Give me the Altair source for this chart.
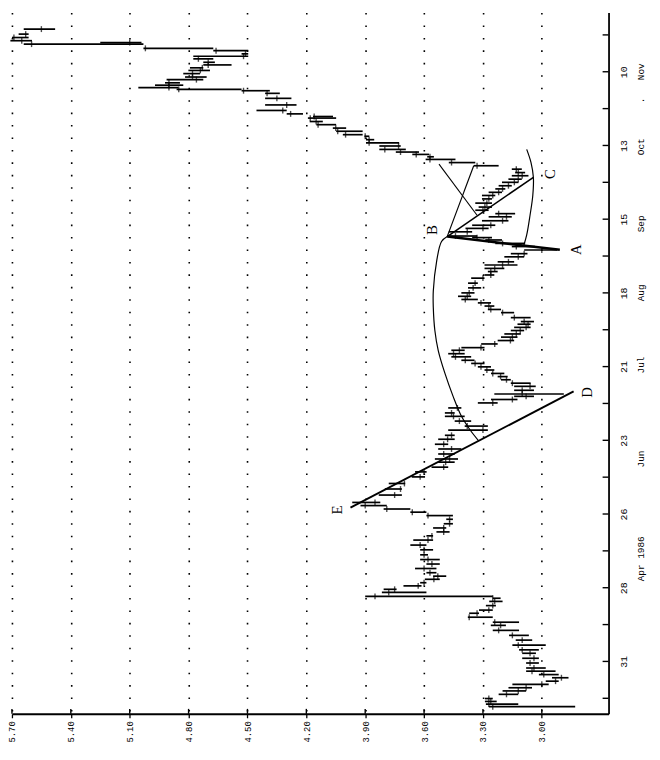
import altair as alt
import pandas as pd

BASE = pd.Timestamp("1986-03-31", tz="UTC")


def ms(day):
    return int((BASE + pd.Timedelta(days=float(day))).timestamp() * 1000)


# ---------------- daily bars (day offset from 31 Mar 1986) ----------------
bar_day = [
    -17.2, -16.2, -15.2, -14.1, -12.5, -11.2, -10.0, -8.7, -7.5, -6.2, -5.0, -3.7, -2.5, -0.6,
    1.2, 3.1, 4.4, 6.2, 8.1, 9.9, 11.8, 13.7, 14.9, 16.8, 18.3, 19.5, 21.2, 22.8, 24.0, 24.7,
    26.2, 27.4, 28.7, 29.9, 31.2, 32.4, 33.7, 35.3, 37.0, 38.7, 40.5, 42.4, 44.2, 46.1, 47.7,
    49.2, 50.7, 52.3, 54.0, 55.4, 56.7, 57.9, 59.2, 60.4,
    63.2, 65.5, 67.6, 70.1, 72.0, 73.8, 75.7, 76.9, 78.8, 80.7, 82.5, 84.4, 85.9, 87.9, 89.4,
    91.3, 93.1, 94.4, 96.3, 98.2, 99.5, 100.7, 101.6, 103.0, 104.5, 105.7, 107.0, 108.2, 109.4,
    110.7, 111.9, 113.2, 114.4, 115.7, 116.9, 118.2, 119.2, 120.6, 121.9, 123.2, 124.4, 125.7,
    126.9, 128.1, 129.1, 130.6, 132.5, 133.7, 135.0, 136.2, 137.5, 138.7, 140.0, 141.9, 143.7,
    145.6, 146.8, 148.1, 149.3, 150.6, 151.8, 153.7, 154.9, 156.3,
    157.6, 158.8, 160.1, 161.0, 161.6, 163.2, 164.5, 165.7, 167.4, 168.9, 170.1, 171.4, 172.6,
    174.1, 175.7, 177.0, 178.2, 179.5, 180.7, 182.0, 183.2, 184.5, 185.7, 187.0, 188.3, 189.5,
    190.7, 191.7, 192.6, 193.5, 194.5, 195.8, 197.0, 198.2, 199.5, 200.1, 201.4, 202.6, 203.9,
    205.1, 206.4,
    207.0, 208.0, 209.3, 211.4, 213.9, 215.8, 216.8, 217.3, 218.0, 218.9, 219.8, 221.0, 222.0,
    223.3, 224.5, 225.5, 226.6, 227.6, 228.9, 229.9, 230.8, 232.0, 232.9, 234.5, 235.1, 235.8,
    237.0, 238.3, 240.2,
]
bar_low = [
    2.83, 3.12, 3.23, 3.25, 3.12, 3.08, 3.05, 2.965, 2.914, 2.864, 2.914, 2.93, 2.98, 3.015,
    3.015, 3.03, 3.015, 2.98, 3.049, 3.066, 3.116, 3.183, 3.116, 3.25, 3.32, 3.25, 3.234, 3.20, 3.21, 3.25,
    3.588, 3.74, 3.613, 3.588, 3.52, 3.487, 3.537, 3.537, 3.52, 3.52, 3.58, 3.554, 3.588, 3.554, 3.554,
    3.47, 3.487, 3.453, 3.453, 3.453, 3.588, 3.67, 3.79, 3.823,
    3.713, 3.713, 3.696, 3.595, 3.587, 3.477, 3.444, 3.427, 3.444, 3.41, 3.477, 3.444, 3.444, 3.275, 3.275,
    3.36, 3.393, 3.444, 3.41, 3.225, 3.124, 3.04, 2.888, 3.04, 3.031, 3.057, 3.158, 3.174, 3.191,
    3.242, 3.259, 3.292, 3.343, 3.36, 3.393, 3.393, 3.292, 3.225, 3.141, 3.124, 3.107, 3.09,
    3.057, 3.057, 3.04, 3.057, 3.141, 3.208, 3.242, 3.259, 3.326, 3.36, 3.343, 3.309, 3.326,
    3.292, 3.242, 3.225, 3.191, 3.124, 3.141, 3.09, 3.073, 2.922,
    3.035, 3.085, 3.203, 3.254, 3.33, 3.355, 3.271, 3.237, 3.17, 3.153, 3.136, 3.271, 3.254,
    3.254, 3.254, 3.237, 3.203, 3.186, 3.153, 3.119, 3.102, 3.068, 3.085, 3.102, 3.22, 3.339,
    3.44, 3.55, 3.575, 3.626, 3.693, 3.719, 3.727, 3.854, 3.879, 3.913, 3.913, 3.997, 4.048,
    4.116, 4.048,
    4.064, 4.217, 4.30, 4.25, 4.276, 4.335, 4.386, 4.53, 4.852, 4.827, 4.844, 4.725, 4.708,
    4.742, 4.691, 4.725, 4.581, 4.666, 4.674, 4.496, 4.496, 4.496, 4.674, 5.03, 5.04, 5.598,
    5.615, 5.615, 5.48,
]
bar_high = [
    3.27, 3.285, 3.29, 3.29, 3.22, 3.20, 3.17, 3.15, 2.98, 2.948, 3.015, 3.08, 3.08, 3.08,
    3.10, 3.10, 3.116, 3.15, 3.133, 3.167, 3.25, 3.26, 3.25, 3.377, 3.37, 3.32, 3.285, 3.268, 3.25, 3.90,
    3.815, 3.806, 3.705, 3.62, 3.596, 3.554, 3.588, 3.646, 3.588, 3.62, 3.62, 3.62, 3.67, 3.655, 3.588,
    3.537, 3.554, 3.50, 3.487, 3.588, 3.67, 3.806, 3.924, 3.966,
    3.831, 3.80, 3.78, 3.663, 3.646, 3.562, 3.528, 3.545, 3.528, 3.528, 3.545, 3.528, 3.494, 3.477, 3.393,
    3.444, 3.494, 3.494, 3.477, 3.326, 3.259, 3.141, 3.242, 3.141, 3.141, 3.158, 3.208, 3.225, 3.259,
    3.292, 3.326, 3.36, 3.41, 3.461, 3.477, 3.461, 3.41, 3.309, 3.225, 3.208, 3.191, 3.158,
    3.141, 3.124, 3.107, 3.158, 3.208, 3.275, 3.292, 3.326, 3.41, 3.427, 3.41, 3.376, 3.376,
    3.36, 3.292, 3.275, 3.292, 3.292, 3.225, 3.191, 3.158, 3.09,
    3.153, 3.237, 3.288, 3.355, 3.482, 3.474, 3.389, 3.355, 3.305, 3.271, 3.237, 3.339, 3.322,
    3.339, 3.305, 3.305, 3.271, 3.237, 3.22, 3.203, 3.17, 3.153, 3.136, 3.153, 3.347, 3.474,
    3.592, 3.584, 3.66, 3.744, 3.828, 3.828, 3.896, 3.896, 3.904, 4.014, 4.048, 4.065, 4.149,
    4.183, 4.192,
    4.166, 4.30, 4.454, 4.41, 4.41, 4.41, 4.53, 4.861, 5.056, 4.971, 4.92, 4.912, 4.818,
    4.827, 4.801, 4.793, 4.725, 4.725, 4.776, 4.776, 4.53, 4.674, 5.03, 5.64, 5.25, 5.708,
    5.70, 5.666, 5.64,
]
bar_close = [
    3.25, 3.27, 3.26, 3.27, 3.18, 3.12, 3.08, 3.00, 2.93, 2.90, 2.99, 3.05, 3.04, 3.06,
    3.04, 3.06, 3.10, 3.12, 3.10, 3.15, 3.22, 3.21, 3.24, 3.37, 3.33, 3.27, 3.25, 3.24, 3.25, 3.85,
    3.78, 3.75, 3.63, 3.60, 3.55, 3.53, 3.57, 3.60, 3.56, 3.58, 3.60, 3.60, 3.62, 3.58, 3.56,
    3.50, 3.50, 3.47, 3.47, 3.58, 3.66, 3.79, 3.90, 3.85,
    3.75, 3.72, 3.70, 3.62, 3.60, 3.50, 3.49, 3.47, 3.50, 3.46, 3.50, 3.48, 3.46, 3.30, 3.38,
    3.42, 3.45, 3.46, 3.43, 3.25, 3.15, 3.08, 3.10, 3.10, 3.06, 3.15, 3.18, 3.21, 3.25,
    3.28, 3.31, 3.34, 3.39, 3.44, 3.45, 3.42, 3.31, 3.24, 3.16, 3.15, 3.13, 3.11,
    3.08, 3.07, 3.09, 3.14, 3.20, 3.26, 3.27, 3.31, 3.39, 3.38, 3.37, 3.35, 3.34,
    3.30, 3.26, 3.26, 3.24, 3.20, 3.17, 3.12, 3.09, 3.00,
    3.13, 3.20, 3.27, 3.33, 3.44, 3.38, 3.30, 3.26, 3.20, 3.18, 3.22, 3.30, 3.29,
    3.28, 3.27, 3.25, 3.22, 3.20, 3.17, 3.14, 3.12, 3.10, 3.12, 3.13, 3.33, 3.46,
    3.57, 3.57, 3.64, 3.72, 3.80, 3.73, 3.88, 3.88, 3.90, 4.00, 4.04, 4.05, 4.14,
    4.15, 4.18,
    4.16, 4.28, 4.32, 4.30, 4.35, 4.40, 4.52, 4.85, 4.90, 4.90, 4.90, 4.76, 4.78,
    4.78, 4.74, 4.73, 4.70, 4.70, 4.75, 4.52, 4.51, 4.66, 5.02, 5.60, 5.10, 5.65,
    5.69, 5.63, 5.55,
]

# ---------------- drawn study lines ----------------
line_name = ["ED", "ED", "BA", "BA", "BC", "BC", "X1", "X1", "X2", "X2"]
line_price = [3.975, 2.838, 3.482, 2.908, 3.482, 3.043, 3.482, 3.347, 3.524, 3.330]
line_day = [58.4, 102.6, 161.4, 156.4, 161.4, 183.9, 161.4, 188.3, 188.9, 169.5]
line_width = [2.0, 2.0, 2.5, 2.5, 1.6, 1.6, 1.1, 1.1, 1.1, 1.1]

arc_left_price = [3.482, 3.511, 3.536, 3.553, 3.553, 3.545, 3.528, 3.494, 3.452, 3.41, 3.368, 3.322]
arc_left_day = [161.4, 159.5, 152.0, 140.7, 134.5, 125.7, 118.2, 109.5, 100.7, 93.2, 88.2, 83.8]
arc_right_price = [3.077, 3.055, 3.043, 3.046, 3.06, 3.077, 3.092]
arc_right_day = [194.5, 189.5, 183.9, 177.0, 169.5, 162.0, 158.0]

letter_text = ["A", "B", "C", "D", "E"]
letter_price = [2.823, 3.558, 2.959, 2.77, 4.042]
letter_day = [156.4, 163.9, 185.1, 102.2, 57.5]

# ---------------- axes ----------------
price_ticks = [3.00, 3.30, 3.60, 3.90, 4.20, 4.50, 4.80, 5.10, 5.40, 5.70]
tick_days = [-14, 0, 14, 28, 42, 56, 70, 84, 98, 112, 126, 140, 154, 168, 182, 196, 210, 224, 238]
labelled_dates = [31, 28, 26, 23, 21, 18, 15, 13, 10]
month_text = ["Apr 1986", "Jun", "Jul", "Aug", "Sep", "Oct", "Nov", "."]
month_day = [39.0, 76.9, 112.6, 140.0, 166.2, 195.5, 224.0, 213.1]

W, H = 604, 710
PRICE_DOMAIN = [2.66, 5.70]
DAY_DOMAIN = [-19.9, 246.5]

MONO = "Liberation Mono"
SERIF = "Liberation Serif"

xscale = alt.Scale(domain=PRICE_DOMAIN, reverse=True, nice=False, zero=False)
yscale = alt.Scale(type="utc", domain=[ms(DAY_DOMAIN[0]), ms(DAY_DOMAIN[1])], nice=False)

x_axis = alt.Axis(
    values=price_ticks, format=".2f", labelAngle=270, labelAlign="right", labelBaseline="middle",
    labelFont=MONO, labelFontSize=9, labelColor="black", labelPadding=3, labelFlush=False,
    labelOverlap=False, tickSize=4, tickColor="black", tickWidth=1.3, domainColor="black",
    domainWidth=2.0, grid=True, gridColor="black", gridDash=[1.6, 11], gridWidth=1.6,
    gridOpacity=1, title=None,
)
label_list = ",".join(str(v) for v in labelled_dates)
y_axis = alt.Axis(
    orient="right", values=[ms(d) for d in tick_days],
    labelExpr=f"indexof([{label_list}], utcdate(datum.value)) >= 0 ? utcFormat(datum.value, '%d') : ''",
    labelAngle=270, labelAlign="center", labelBaseline="top", labelPadding=10,
    labelFont=MONO, labelFontSize=10, labelColor="black", labelOverlap=False, labelFlush=False,
    tickSize=0, domainColor="black", domainWidth=1.8, grid=False, title=None,
)


def xenc(field):
    return alt.X(field, type="quantitative", scale=xscale, axis=x_axis)


def yenc(field):
    return alt.Y(field, type="temporal", scale=yscale, axis=y_axis)


bars_df = pd.DataFrame({
    "date": [ms(d) for d in bar_day], "low": bar_low, "high": bar_high, "close": bar_close,
})
lines_df = pd.DataFrame({
    "name": line_name, "i": list(range(len(line_name))), "price": line_price,
    "date": [ms(d) for d in line_day], "w": line_width,
})
arcs_df = pd.DataFrame({
    "name": ["left"] * len(arc_left_price) + ["right"] * len(arc_right_price),
    "i": list(range(len(arc_left_price) + len(arc_right_price))),
    "price": arc_left_price + arc_right_price,
    "date": [ms(d) for d in arc_left_day + arc_right_day],
})
letters_df = pd.DataFrame({"t": letter_text, "price": letter_price, "date": [ms(d) for d in letter_day]})
months_df = pd.DataFrame({"t": month_text, "date": [ms(d) for d in month_day]})
ticks_df = pd.DataFrame({"date": [ms(d) for d in tick_days]})
pticks_df = pd.DataFrame({"price": price_ticks})

bars = alt.Chart(bars_df).mark_rule(color="black", strokeWidth=1.7).encode(
    x=xenc("low"), x2="high:Q", y=yenc("date")
)
closes = alt.Chart(bars_df).mark_tick(color="black", orient="vertical", size=6, thickness=1.4).encode(
    x=xenc("close"), y=yenc("date")
)
lines = alt.Chart(lines_df).mark_line(color="black").encode(
    x=xenc("price"), y=yenc("date"), detail="name:N", order="i:Q",
    strokeWidth=alt.StrokeWidth("w:Q", scale=None),
)
arcs = alt.Chart(arcs_df).mark_line(color="black", strokeWidth=1.2, interpolate="catmull-rom").encode(
    x=xenc("price"), y=yenc("date"), detail="name:N", order="i:Q"
)
letters = alt.Chart(letters_df).mark_text(
    font=SERIF, fontSize=15, angle=270, align="center", baseline="middle", color="black"
).encode(x=xenc("price"), y=yenc("date"), text="t:N")
months = alt.Chart(months_df).mark_text(
    font=MONO, fontSize=9.5, angle=270, align="center", baseline="top", color="black"
).encode(x=alt.value(W + 28), y=yenc("date"), text="t:N")
rticks = alt.Chart(ticks_df).mark_rule(color="black", strokeWidth=1.4).encode(
    x=alt.value(W - 6), x2=alt.value(W), y=yenc("date")
)
bticks = alt.Chart(pticks_df).mark_rule(color="black", strokeWidth=1.4).encode(
    x=xenc("price"), y=alt.value(H - 5), y2=alt.value(H)
)

chart = alt.layer(bars, closes, lines, arcs, letters, months, rticks, bticks).properties(
    width=W, height=H,
    padding={"left": 4, "top": 0, "right": 44, "bottom": 28},
    autosize=alt.AutoSizeParams(type="none"),
).configure_view(stroke=None)

chart.save("out.html", embed_options={"renderer": "svg", "actions": False})
